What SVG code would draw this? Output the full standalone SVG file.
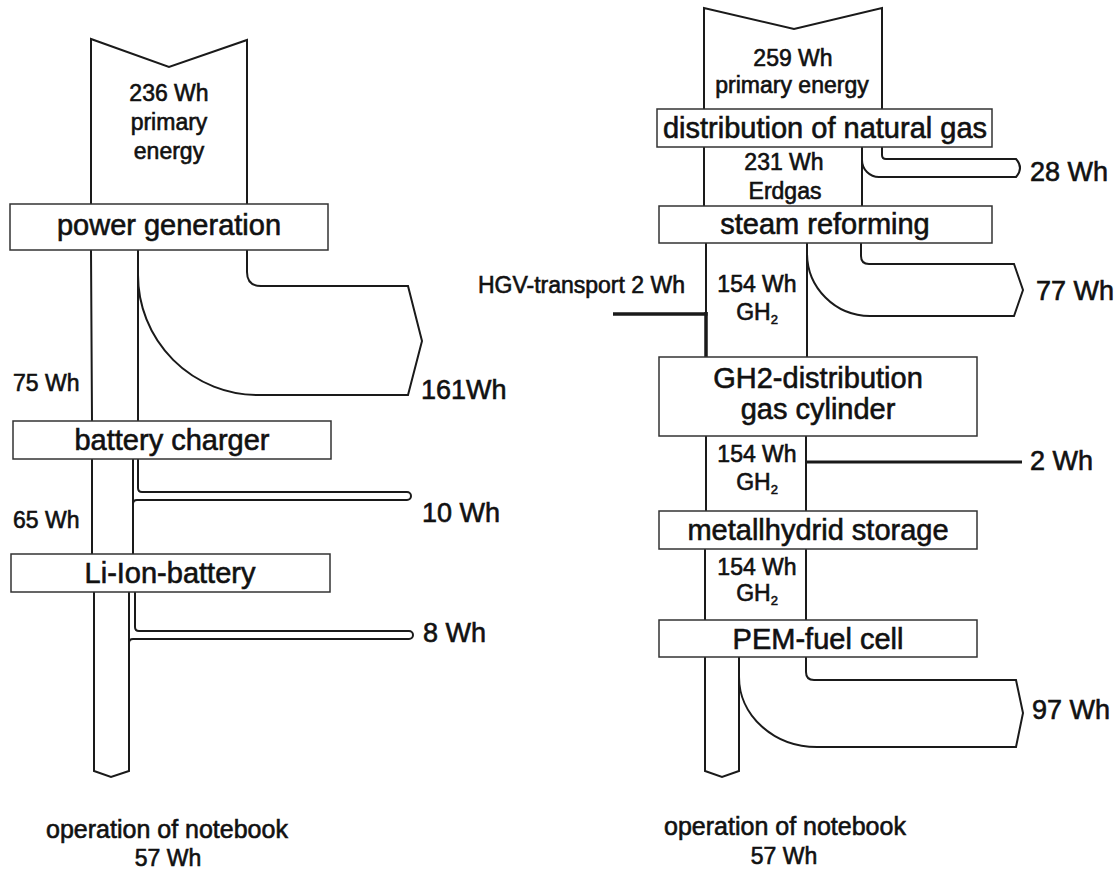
<svg xmlns="http://www.w3.org/2000/svg" width="1119" height="870" viewBox="0 0 1119 870">
<style>
.flow{fill:none;stroke:#1a1a1a;stroke-width:2;stroke-linejoin:miter}
.thick{fill:none;stroke:#1a1a1a;stroke-width:3.5}
.box{fill:#fff;stroke:#333;stroke-width:1.5}
text{font-family:"Liberation Sans",Arial,sans-serif;fill:#111;stroke:#111;stroke-width:0.6}
.lbl{font-size:29px;text-anchor:middle}
.val{font-size:23px;text-anchor:middle}
.side{font-size:23px}
.out{font-size:27px}
.sub{font-size:13px}
</style>
<rect width="1119" height="870" fill="#fff"/>
<g id="connectors">
  <path class="flow" d="M91,204 L91,39 L169,67 L247,40 L247,204"/>
  <path class="flow" d="M91,250 L92,421 M92,459 L92,554"/>
  <path class="flow" d="M138,250 L138,421"/>
  <path class="flow" d="M247,250 L247,272 Q247,286 261,286 L408,286 L422,341 L408,395 L258,395 A120,120 0 0 1 138,275"/>
  <path class="flow" d="M133,459 L133,554"/>
  <path class="flow" d="M138,459 L138,488 Q138,492 142,492 L407,492 A4,4 0 0 1 407,500 L137,500 Q133,500 133,504"/>
  <path class="flow" d="M94,592 L94,771 L111,777 L129,771 L129,592"/>
  <path class="flow" d="M135,592 L135,627 Q135,631 139,631 L409,631 A4,4 0 0 1 409,639 L133,639 Q129,639 129,643"/>
  <path class="flow" d="M704,109 L704,8 L794,29 L882,8 L882,109"/>
  <path class="flow" d="M704,147 L704,206"/>
  <path class="flow" d="M862,147 L862,206"/>
  <path class="flow" d="M882,147 L882,155 Q882,159 886,159 L1016,159 Q1024,168 1016,177 L879,177 A17,17 0 0 1 862,160"/>
  <path class="flow" d="M706,243 L706,314"/>
  <path class="flow" d="M807,243 L807,357"/>
  <path class="flow" d="M861,243 L861,256 Q861,264 869,264 L1014,264 L1023,290 L1014,316 L870,316 A63,63 0 0 1 807,253"/>
  <path class="thick" d="M613,314 L707.5,314"/>
  <path class="flow" d="M706,312 L706,357" style="stroke-width:3.5"/>
  <path class="flow" d="M706,436 L706,511 M806,436 L806,511"/>
  <path class="flow" d="M806,462 L1022,462" style="stroke-width:3"/>
  <path class="flow" d="M705,549 L705,620 M806,549 L806,620"/>
  <path class="flow" d="M705,657 L705,771 L722,777 L739,771 L739,657"/>
  <path class="flow" d="M806,657 L806,672 Q806,680 814,680 L1016,680 L1023,713 L1016,747 L817,747 A78,70 0 0 1 739,677"/>
</g>

<g id="left-primary">
  <text class="val" x="169" y="101">236 Wh</text>
  <text class="val" x="169" y="130">primary</text>
  <text class="val" x="169" y="159">energy</text>
</g>
<g id="power-generation">
  <rect class="box" x="10" y="204" width="318" height="46"/>
  <text class="lbl" x="169" y="235">power generation</text>
</g>
<g id="loss-161">
  <text class="out" x="421" y="399">161Wh</text>
</g>
<g id="flow-75">
  <text class="side" x="13" y="391">75 Wh</text>
</g>
<g id="battery-charger">
  <rect class="box" x="13" y="421" width="318" height="38"/>
  <text class="lbl" x="172" y="450">battery charger</text>
</g>
<g id="loss-10">
  <text class="out" x="422" y="522">10 Wh</text>
</g>
<g id="flow-65">
  <text class="side" x="13" y="528">65 Wh</text>
</g>
<g id="li-ion-battery">
  <rect class="box" x="11" y="554" width="319" height="38"/>
  <text class="lbl" x="170" y="583">Li-Ion-battery</text>
</g>
<g id="loss-8">
  <text class="out" x="423" y="642">8 Wh</text>
</g>
<g id="left-notebook">
  <text class="val" x="167" y="838" style="font-size:25px">operation of notebook</text>
  <text class="val" x="168" y="866">57 Wh</text>
</g>

<g id="right-primary">
  <text class="val" x="793" y="66">259 Wh</text>
  <text class="val" x="792" y="93">primary energy</text>
</g>
<g id="distribution-natural-gas">
  <rect class="box" x="657" y="109" width="335" height="38"/>
  <text class="lbl" x="825" y="138">distribution of natural gas</text>
</g>
<g id="loss-28">
  <text class="out" x="1030" y="181">28 Wh</text>
</g>
<g id="flow-231">
  <text class="val" x="784" y="170">231 Wh</text>
  <text class="val" x="785" y="199">Erdgas</text>
</g>
<g id="steam-reforming">
  <rect class="box" x="659" y="206" width="333" height="37"/>
  <text class="lbl" x="825" y="234">steam reforming</text>
</g>
<g id="loss-77">
  <text class="out" x="1036" y="300">77 Wh</text>
</g>
<g id="hgv-transport">
  <text class="side" x="685" y="293" text-anchor="end">HGV-transport 2 Wh</text>
</g>
<g id="flow-154-a">
  <text class="val" x="757" y="292">154 Wh</text>
  <text class="val" x="757" y="320">GH<tspan class="sub" dy="4">2</tspan></text>
</g>
<g id="gh2-distribution">
  <rect class="box" x="659" y="357" width="318" height="79"/>
  <text class="lbl" x="818" y="388">GH2-distribution</text>
  <text class="lbl" x="818" y="419">gas cylinder</text>
</g>
<g id="loss-2">
  <text class="out" x="1030" y="470">2 Wh</text>
</g>
<g id="flow-154-b">
  <text class="val" x="757" y="462">154 Wh</text>
  <text class="val" x="757" y="490">GH<tspan class="sub" dy="4">2</tspan></text>
</g>
<g id="metallhydrid-storage">
  <rect class="box" x="659" y="511" width="318" height="38"/>
  <text class="lbl" x="818" y="540">metallhydrid storage</text>
</g>
<g id="flow-154-c">
  <text class="val" x="757" y="575">154 Wh</text>
  <text class="val" x="757" y="601">GH<tspan class="sub" dy="4">2</tspan></text>
</g>
<g id="pem-fuel-cell">
  <rect class="box" x="659" y="620" width="318" height="37"/>
  <text class="lbl" x="818" y="649">PEM-fuel cell</text>
</g>
<g id="loss-97">
  <text class="out" x="1032" y="719">97 Wh</text>
</g>
<g id="right-notebook">
  <text class="val" x="785" y="835" style="font-size:25px">operation of notebook</text>
  <text class="val" x="784" y="864">57 Wh</text>
</g>
</svg>
